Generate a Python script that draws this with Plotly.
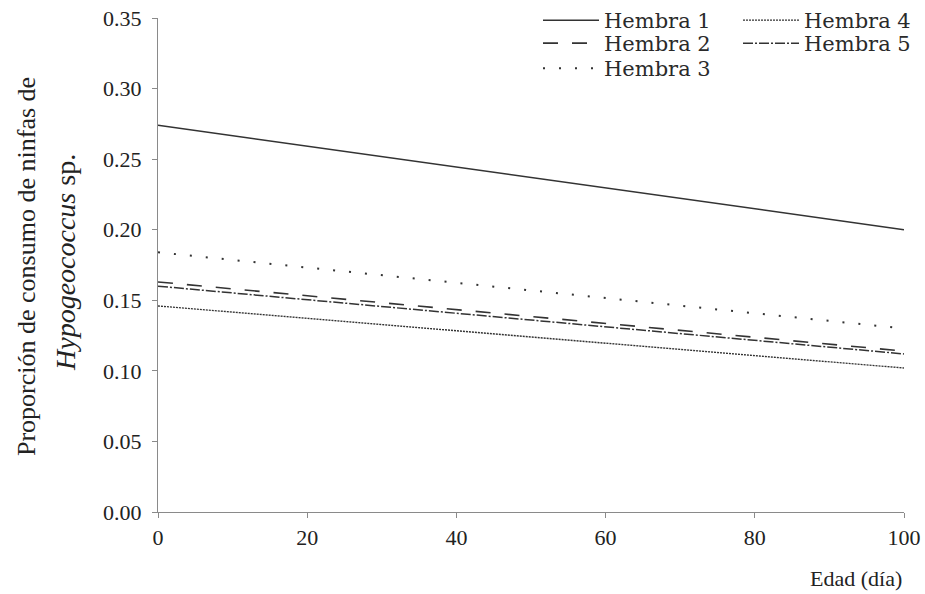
import plotly.graph_objects as go

# Edad (días) at which each fitted curve is evaluated
edad = [0, 100]

# Proporción de consumo de ninfas de Hypogeococcus sp. por hembra
hembra_1 = [0.274, 0.200]
hembra_2 = [0.163, 0.114]
hembra_3 = [0.184, 0.130]
hembra_4 = [0.146, 0.102]
hembra_5 = [0.160, 0.112]

series_names = ["Hembra 1", "Hembra 2", "Hembra 3", "Hembra 4", "Hembra 5"]
series_values = [hembra_1, hembra_2, hembra_3, hembra_4, hembra_5]

x_ticks = [0, 20, 40, 60, 80, 100]
y_ticks = [0.00, 0.05, 0.10, 0.15, 0.20, 0.25, 0.30, 0.35]

styles = [
    dict(dash="solid", width=1.5),
    dict(dash="15px,14px", width=1.6),
    dict(dash="2px,14px", width=2),
    dict(dash="2px,1px", width=1.4),
    dict(dash="10px,2px,2px,2px", width=1.5),
]

FONT = "Liberation Serif"
LEGEND_FONT = "DejaVu Serif"
INK = "#222222"
AXIS = "#8a8a8a"

W, H = 925, 594
ML, MR, MT, MB = 158, 21, 18, 82
plot_w = W - ML - MR
plot_h = H - MT - MB

# One small legend box per entry, laid out in two columns (1-3 | 4-5)
legend_slots = [(538, -2), (538, 23), (538, 48), (738, -2), (738, 23)]
legend_ids = ["legend", "legend2", "legend3", "legend4", "legend5"]

fig = go.Figure()
for name, vals, st, lg in zip(series_names, series_values, styles, legend_ids):
    fig.add_trace(go.Scatter(
        x=edad, y=vals, mode="lines", name=name,
        line=dict(color="#333333", **st),
        legend=lg,
    ))

legend_layout = {}
for lg, (lx, ly) in zip(legend_ids, legend_slots):
    legend_layout[lg] = dict(
        xref="container", yref="container",
        x=lx / W, y=1 - ly / H,
        xanchor="left", yanchor="top",
        bgcolor="rgba(0,0,0,0)",
        font=dict(family=LEGEND_FONT, size=21, color="#2a2a2a"),
        itemwidth=56,
    )

fig.update_layout(
    width=W, height=H,
    margin=dict(l=ML, r=MR, t=MT, b=MB, autoexpand=False),
    paper_bgcolor="white", plot_bgcolor="white",
    font=dict(family=FONT, size=22, color=INK),
    showlegend=True,
    **legend_layout,
    xaxis=dict(
        range=[0, 100], tickvals=x_ticks, ticktext=[str(v) for v in x_ticks],
        showgrid=False, zeroline=False, showline=True, linecolor=AXIS, linewidth=1,
        ticks="outside", ticklen=5, tickcolor=AXIS, ticklabelstandoff=1,
        tickfont=dict(family=FONT, size=22, color=INK),
    ),
    yaxis=dict(
        range=[0, 0.35], tickvals=y_ticks, ticktext=[f"{v:.2f}" for v in y_ticks],
        showgrid=False, zeroline=False, showline=True, linecolor=AXIS, linewidth=1,
        ticks="outside", ticklen=5, tickcolor=AXIS, ticklabelstandoff=6,
        tickfont=dict(family=FONT, size=22, color=INK),
    ),
)

# Axis titles
fig.add_annotation(
    text="Edad (día)", xref="paper", yref="paper",
    x=1.0, y=-(578 - 512) / plot_h, xanchor="right", yanchor="middle",
    showarrow=False, font=dict(family=FONT, size=22, color=INK),
)
fig.add_annotation(
    text="Proporción de consumo de ninfas de", xref="paper", yref="paper",
    x=(26 - ML) / plot_w, y=1 - (267 - MT) / plot_h,
    xanchor="center", yanchor="middle", textangle=-90,
    showarrow=False, font=dict(family=FONT, size=26, color=INK),
)
fig.add_annotation(
    text="<i>Hypogeococcus</i> sp.", xref="paper", yref="paper",
    x=(65 - ML) / plot_w, y=1 - (263 - MT) / plot_h,
    xanchor="center", yanchor="middle", textangle=-90,
    showarrow=False, font=dict(family=FONT, size=28, color=INK),
)

fig.write_html("out.html")
